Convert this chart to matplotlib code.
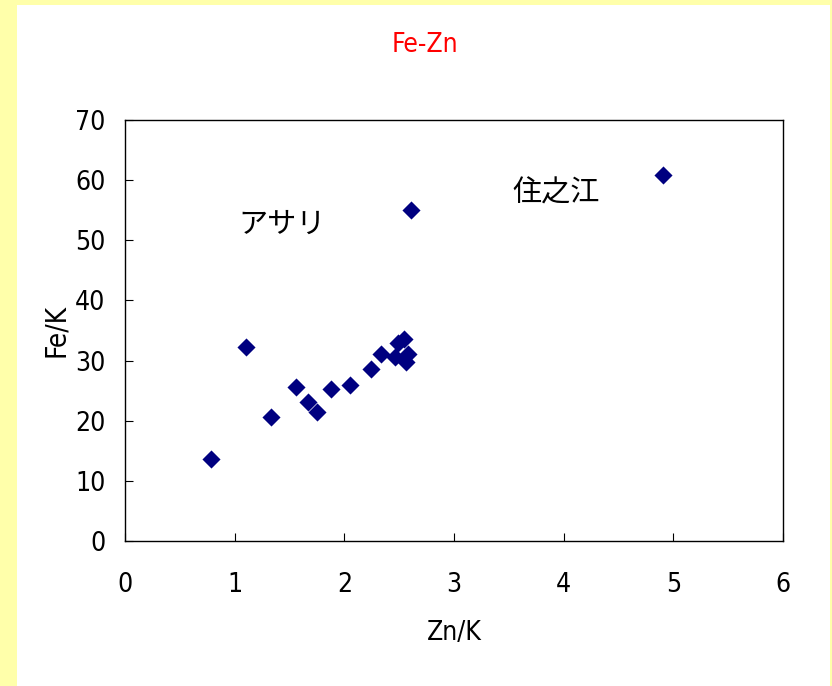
import matplotlib
matplotlib.use("Agg")
import matplotlib.pyplot as plt
from matplotlib.patches import Rectangle

# Zn/K vs Fe/K values
zn_k = [0.78, 1.10, 1.33, 1.56, 1.67, 1.75, 1.88, 2.05, 2.24, 2.33,
        2.46, 2.49, 2.54, 2.58, 2.56, 2.61, 4.91]
fe_k = [13.6, 32.3, 20.6, 25.6, 23.1, 21.4, 25.3, 25.9, 28.6, 31.1,
        30.6, 32.9, 33.6, 31.1, 29.8, 55.0, 60.9]

labels = ["アサリ", "住之江"]
label_pos = [(1.03, 52.5), (3.53, 57.7)]

plt.rcParams['font.family'] = ['DejaVu Sans', 'Noto Sans CJK JP']
plt.rcParams['font.stretch'] = 'condensed'

fig = plt.figure(figsize=(8.32, 6.86), dpi=100)
fig.patch.set_facecolor('#ffffaa')
# white panel inside the yellow border
fig.patches.append(Rectangle((17 / 832, 0), (830 - 17) / 832, (686 - 5) / 686,
                             transform=fig.transFigure, facecolor='white',
                             edgecolor='none', zorder=-5))

ax = fig.add_axes([125 / 832, 145 / 686, 658 / 832, 421 / 686])
ax.set_facecolor('white')
ax.scatter(zn_k, fe_k, marker='D', s=85, color='#000080', linewidths=0, zorder=3)

ax.set_xlim(0, 6)
ax.set_ylim(0, 70)
ax.set_xticks(range(0, 7))
ax.set_yticks(range(0, 71, 10))
ax.tick_params(direction='in', length=6, width=0.8, labelsize=19)
ax.tick_params(axis='x', pad=22)
ax.tick_params(axis='y', pad=14)
for s in ax.spines.values():
    s.set_linewidth(1.0)

ax.set_xlabel("Zn/K", fontsize=19, labelpad=16)
ax.set_ylabel("Fe/K", fontsize=20, labelpad=4)

for txt, (x, y) in zip(labels, label_pos):
    ax.text(x, y, txt, fontsize=21, family=['Noto Sans CJK JP', 'DejaVu Sans'],
            va='center', ha='left')

fig.text(425 / 832, 1 - 45 / 686, "Fe-Zn", color='red', fontsize=19,
         ha='center', va='center')

fig.savefig("out.png", dpi=100, facecolor=fig.get_facecolor())
